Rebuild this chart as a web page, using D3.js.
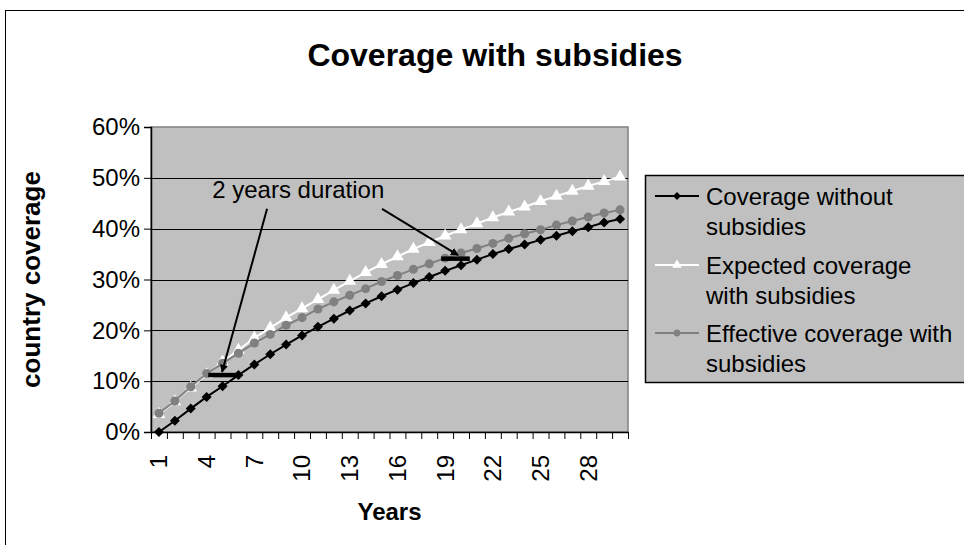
<!DOCTYPE html>
<html>
<head>
<meta charset="utf-8">
<script src="https://cdn.jsdelivr.net/npm/d3@7"></script>
<style>
  html, body { margin: 0; padding: 0; background: #fff; }
  svg { display: block; }
  text { font-family: "Liberation Sans", Arial, sans-serif; fill: #000; }
</style>
</head>
<body>
<svg id="chart" width="964" height="545"></svg>
<script>
// Years 1..30
const years = d3.range(1, 31);
const xTickLabels = [1, 4, 7, 10, 13, 16, 19, 22, 25, 28];
const yTicks = [0, 0.1, 0.2, 0.3, 0.4, 0.5, 0.6];

// Share of countries covered, per year
const coverageWithout = [0.000, 0.022, 0.046, 0.069, 0.090, 0.112, 0.133, 0.153, 0.172, 0.190,
                         0.207, 0.223, 0.239, 0.253, 0.267, 0.280, 0.293, 0.305, 0.317, 0.328,
                         0.339, 0.350, 0.360, 0.369, 0.378, 0.386, 0.395, 0.403, 0.412, 0.419];
const expectedWith    = [0.035, 0.060, 0.087, 0.113, 0.138, 0.161, 0.185, 0.205, 0.225, 0.243,
                         0.261, 0.279, 0.297, 0.314, 0.330, 0.345, 0.360, 0.373, 0.386, 0.398,
                         0.410, 0.422, 0.433, 0.443, 0.454, 0.464, 0.474, 0.484, 0.493, 0.502];
const effectiveWith   = [0.037, 0.061, 0.089, 0.115, 0.135, 0.155, 0.175, 0.192, 0.210, 0.225,
                         0.242, 0.256, 0.269, 0.282, 0.296, 0.308, 0.320, 0.331, 0.342, 0.352,
                         0.361, 0.371, 0.381, 0.390, 0.398, 0.407, 0.415, 0.423, 0.431, 0.437];

const seriesNames = ["Coverage without subsidies", "Expected coverage with subsidies", "Effective coverage with subsidies"];
const legendLines = [["Coverage without", "subsidies"], ["Expected coverage", "with subsidies"], ["Effective coverage with", "subsidies"]];

// "2 years duration" callout, in year / coverage units
const durationBars = [
  { from: 4.1, to: 5.9, value: 0.112 },
  { from: 18.75, to: 20.55, value: 0.341 }
];
const durationArrows = [
  { x1: 7.80, y1: 0.439, x2: 4.97, y2: 0.118 },
  { x1: 15.03, y1: 0.439, x2: 19.81, y2: 0.348 }
];
const durationLabel = { text: "2 years duration", year: 4.35, value: 0.460 };

const FONT = 24;
const svg = d3.select("#chart");

// chart frame
svg.append("rect").attr("x", 5.5).attr("y", 10.5).attr("width", 1000).attr("height", 600)
  .attr("fill", "#fff").attr("stroke", "#000").attr("stroke-width", 1);

const plot = { left: 151, top: 127, right: 628, bottom: 432 };
const x = d3.scaleLinear().domain([0.5, 30.5]).range([plot.left, plot.right]);
const y = d3.scaleLinear().domain([0, 0.6]).range([plot.bottom, plot.top]);

// title
svg.append("text").attr("x", 495).attr("y", 66).attr("text-anchor", "middle")
  .attr("font-size", 32).attr("font-weight", "bold").text("Coverage with subsidies");

// plot background
svg.append("rect").attr("x", plot.left).attr("y", plot.top)
  .attr("width", plot.right - plot.left).attr("height", plot.bottom - plot.top)
  .attr("fill", "#c0c0c0").attr("stroke", "#808080").attr("stroke-width", 1.5);

// gridlines
svg.append("g").selectAll("line").data(yTicks.filter(v => v > 0 && v < 0.6)).join("line")
  .attr("x1", plot.left).attr("x2", plot.right)
  .attr("y1", d => Math.round(y(d)) + 0.5).attr("y2", d => Math.round(y(d)) + 0.5)
  .attr("stroke", "#000").attr("stroke-width", 1);

// y axis
const yAxis = svg.append("g").attr("transform", `translate(${plot.left},0)`)
  .call(d3.axisLeft(y).tickValues(yTicks).tickFormat(d3.format(".0%")).tickSize(7).tickPadding(4));
yAxis.select(".domain").attr("stroke", "#000").attr("stroke-width", 1.5);
yAxis.selectAll(".tick line").attr("stroke", "#000");
yAxis.selectAll("text").attr("font-size", FONT).attr("font-family", "Liberation Sans, Arial, sans-serif");

// x axis: tick marks between categories
const xAxis = svg.append("g").attr("transform", `translate(0,${plot.bottom})`)
  .call(d3.axisBottom(x).tickValues(d3.range(0.5, 31, 1)).tickFormat("").tickSize(7).tickSizeOuter(0));
xAxis.select(".domain").attr("stroke", "#000").attr("stroke-width", 1.5);
xAxis.selectAll(".tick line").attr("stroke", "#000");

// x tick labels, rotated
svg.append("g").selectAll("text").data(xTickLabels).join("text")
  .attr("transform", d => `translate(${x(d)},455) rotate(-90)`)
  .attr("text-anchor", "end").attr("dy", "0.35em")
  .attr("font-size", FONT).text(d => d);

// axis titles
svg.append("text").attr("x", (plot.left + plot.right) / 2).attr("y", 520)
  .attr("text-anchor", "middle").attr("font-size", FONT).attr("font-weight", "bold").text("Years");
svg.append("text").attr("transform", `translate(40,${(plot.top + plot.bottom) / 2}) rotate(-90)`)
  .attr("text-anchor", "middle").attr("font-size", 26).attr("font-weight", "bold").text("country coverage");

// series
const diamond = s => `M0,${-s}L${s},0L0,${s}L${-s},0Z`;
const styles = [
  { values: coverageWithout, stroke: "#000", marker: d => diamond(5), fill: "#000", lmarker: diamond(4) },
  { values: expectedWith, stroke: "#fff", marker: d => d3.symbol(d3.symbolTriangle, 70)(), fill: "#fff", lmarker: d3.symbol(d3.symbolTriangle, 40)() },
  { values: effectiveWith, stroke: "#808080", marker: d => d3.symbol(d3.symbolCircle, 64)(), fill: "#808080", lmarker: d3.symbol(d3.symbolCircle, 36)() }
];

const line = d3.line().x((d, i) => x(years[i])).y(d => y(d));
styles.forEach((s, k) => {
  const g = svg.append("g").attr("class", "series-" + k);
  g.append("path").attr("d", line(s.values)).attr("fill", "none")
    .attr("stroke", s.stroke).attr("stroke-width", 2);
  g.selectAll("path.m").data(s.values).join("path").attr("class", "m")
    .attr("transform", (d, i) => `translate(${x(years[i])},${y(d)})`)
    .attr("d", s.marker).attr("fill", s.fill);
});

// duration callouts
svg.append("defs").append("marker").attr("id", "arrow")
  .attr("viewBox", "0 0 10 10").attr("refX", 9).attr("refY", 5)
  .attr("markerWidth", 4).attr("markerHeight", 4).attr("orient", "auto")
  .append("path").attr("d", "M0,0L10,5L0,10Z").attr("fill", "#000");

svg.append("g").selectAll("line").data(durationBars).join("line")
  .attr("x1", d => x(d.from)).attr("x2", d => x(d.to))
  .attr("y1", d => y(d.value)).attr("y2", d => y(d.value))
  .attr("stroke", "#000").attr("stroke-width", 4.5);

svg.append("g").selectAll("line").data(durationArrows).join("line")
  .attr("x1", d => x(d.x1)).attr("y1", d => y(d.y1))
  .attr("x2", d => x(d.x2)).attr("y2", d => y(d.y2))
  .attr("stroke", "#000").attr("stroke-width", 2).attr("marker-end", "url(#arrow)");

svg.append("text").attr("x", x(durationLabel.year)).attr("y", y(durationLabel.value))
  .attr("font-size", FONT).text(durationLabel.text);

// legend
const legend = svg.append("g");
legend.append("rect").attr("x", 645.5).attr("y", 175.5).attr("width", 400).attr("height", 207)
  .attr("fill", "#c0c0c0").attr("stroke", "#000").attr("stroke-width", 1.5);
const baselines = [205, 274, 342];
styles.forEach((s, k) => {
  const b = baselines[k];
  const g = legend.append("g");
  g.append("line").attr("x1", 655).attr("x2", 699).attr("y1", b - 9).attr("y2", b - 9)
    .attr("stroke", s.stroke).attr("stroke-width", 2);
  g.append("path").attr("transform", `translate(677,${b - 9})`).attr("d", s.lmarker).attr("fill", s.fill);
  g.selectAll("text").data(legendLines[k]).join("text")
    .attr("x", 706).attr("y", (d, i) => b + i * 30)
    .attr("font-size", FONT).text(d => d);
});
</script>
</body>
</html>
